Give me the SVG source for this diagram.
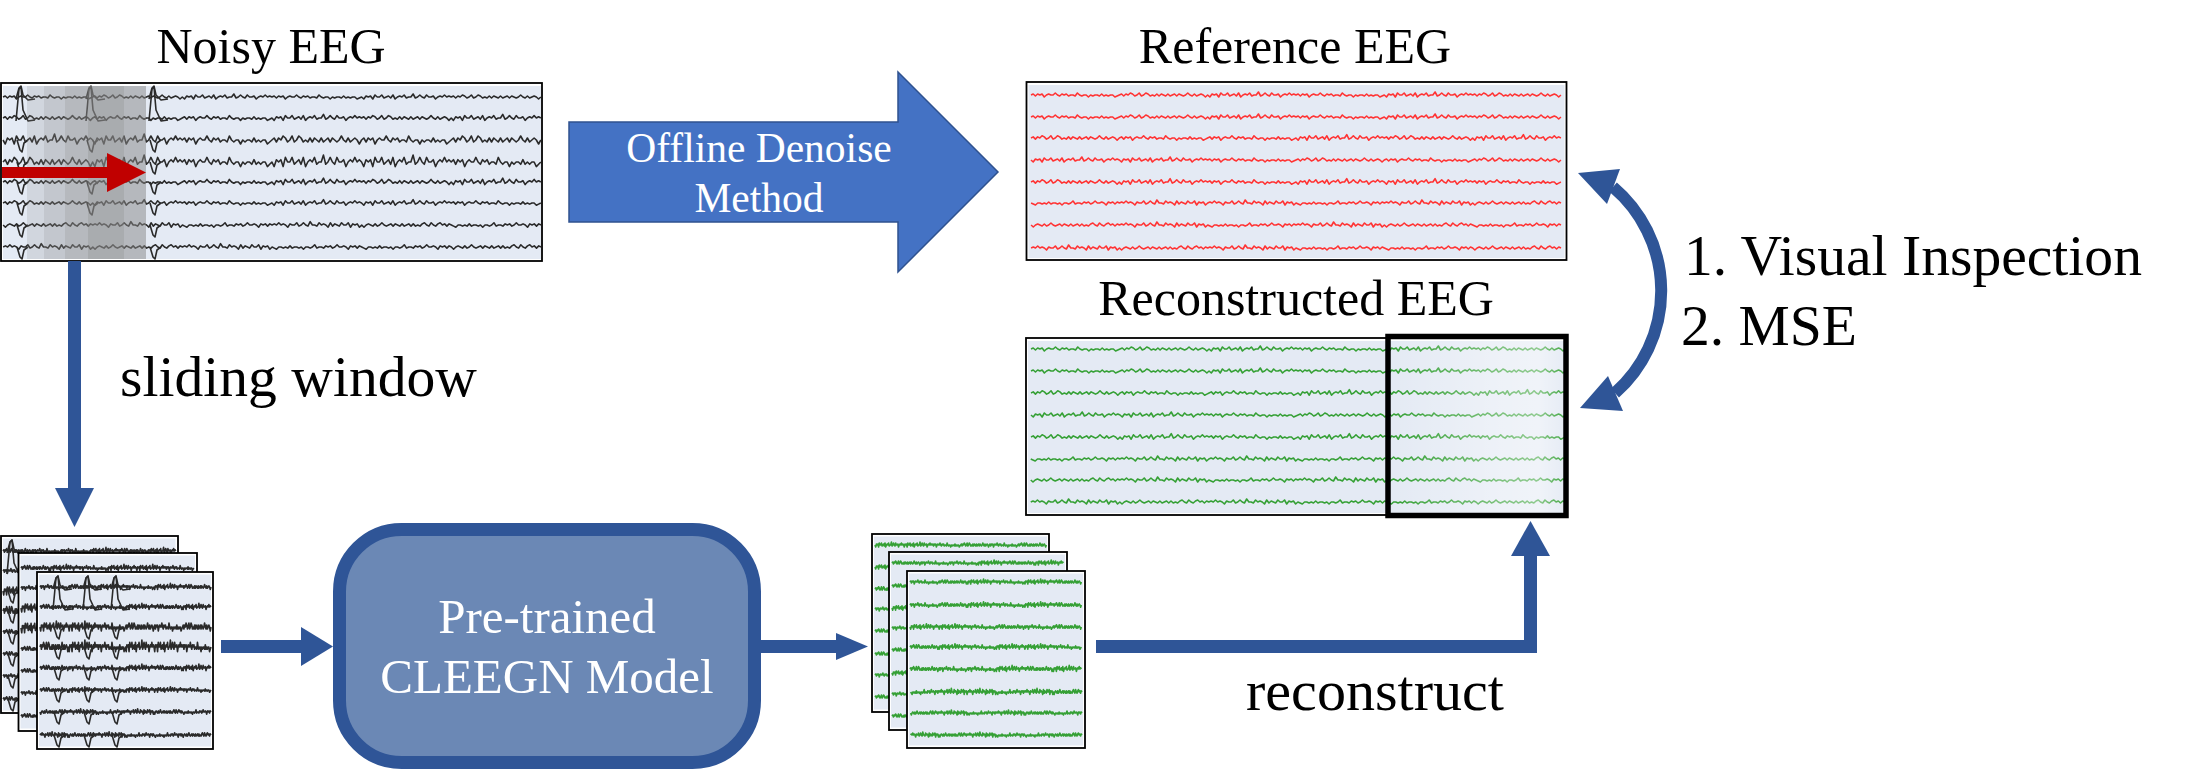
<svg xmlns="http://www.w3.org/2000/svg" width="2186" height="769" viewBox="0 0 2186 769">
<defs>
<style>
.frame{fill:#fff;stroke:#000;stroke-width:1.8}
.bg{fill:#E4EAF4}
.tk{fill:none;stroke:#2A2A2A;stroke-width:1.6;stroke-linejoin:round}
.tr{fill:none;stroke:#FF3333;stroke-width:1.6;stroke-linejoin:round}
.tg{fill:none;stroke:#35A035;stroke-width:1.6;stroke-linejoin:round}
text{font-family:'Liberation Serif','DejaVu Serif','Noto Serif','Times New Roman',serif}
.tx{fill:#000}
.wt{fill:#fff}
.ar{fill:#2F5597}
.ln{fill:none;stroke:#2F5597;stroke-width:13}
.band{fill:#888}
</style>
<path id="r1" vector-effect="non-scaling-stroke" d="M0,0 l3,-1 3,2 3,-2 3,1 3,-1 3,3 3,-2 3,-1 3,1 3,0 3,-2 3,2 3,1 3,-2 3,1 3,-1 3,2 3,-1 3,0 3,1 3,-3 3,2 3,1 3,-1 3,0 3,2 3,-2 3,1 3,-1 3,0 3,1 3,-2 3,2 3,-1 3,1 3,-1 3,0 3,2 3,-1 3,-1 3,-1 3,2 3,-2 3,1 3,-2 3,1 3,2 3,-1 3,-2 3,3 3,-1 3,-2 3,1 3,2 3,-1 3,1 3,-2 3,2 3,-2 3,1 3,1 3,-2 3,2 3,-1 3,-1 3,2 3,-2 3,1 3,1 3,-1 3,-2 3,2 3,1 3,-2 3,2 3,-1 3,-1 3,1 3,2 3,-2 3,2 3,-3 3,1 3,-1 3,3 3,-4 3,2 3,0 3,-2 3,3 3,-1 3,-1 3,2 3,-3 3,4 3,-2 3,-1 3,1 3,-2 3,3 3,-1 3,0 3,-3 3,4 3,-1 3,-2 3,2 3,1 3,-3 3,2 3,0 3,-1 3,3 3,-2 3,-1 3,1 3,-2 3,2 3,-1 3,1 3,-1 3,2 3,-2 3,1 3,-1 3,3 3,-2 3,-1 3,1 3,0 3,-2 3,2 3,1 3,-2 3,1 3,-1 3,2 3,-1 3,0 3,1 3,-3 3,2 3,1 3,-1 3,0 3,2 3,-2 3,1 3,-1 3,0 3,1 3,-2 3,2 3,-1 3,1 3,-1 3,0 3,2 3,-1 3,-1 3,2 3,-3 3,1 3,-1 3,3 3,-4 3,2 3,0 3,-2 3,3 3,-1 3,-1 3,2 3,-3 3,4 3,-2 3,-1 3,1 3,-2 3,3 3,-1 3,0 3,-3 3,4 3,-1 3,-2 3,2 3,1 3,-3 3,2 3,0 3,-1 3,3 3,-2 3,-1 3,1 3,-2 3,2 3,-1 3,1 3,-1 3,2 3,-2 3,1 3,-2 3,1 3,2 3,-1 3,-2 3,3 3,-1 3,-2 3,1 3,2 3,-1 3,1 3,-2 3,2 3,-2 3,1 3,1 3,-2 3,2 3,-1 3,-1 3,2 3,-2 3,1 3,1 3,-1 3,-2 3,2 3,1 3,-2 3,2 3,-1 3,-1 3,1 3,2 3,-2"/>
<path id="r2" vector-effect="non-scaling-stroke" d="M0,0 l3,-1 3,2 3,-2 3,1 3,-2 3,1 3,2 3,-1 3,-2 3,3 3,-1 3,-2 3,1 3,2 3,-1 3,1 3,-2 3,2 3,-2 3,1 3,1 3,-2 3,2 3,-1 3,-1 3,2 3,-2 3,1 3,1 3,-1 3,-2 3,2 3,1 3,-2 3,2 3,-1 3,-1 3,1 3,2 3,-2 3,-1 3,2 3,-2 3,1 3,-1 3,3 3,-2 3,-1 3,1 3,0 3,-2 3,2 3,1 3,-2 3,1 3,-1 3,2 3,-1 3,0 3,1 3,-3 3,2 3,1 3,-1 3,0 3,2 3,-2 3,1 3,-1 3,0 3,1 3,-2 3,2 3,-1 3,1 3,-1 3,0 3,2 3,-1 3,-1 3,-1 3,2 3,-2 3,1 3,-1 3,3 3,-2 3,-1 3,1 3,0 3,-2 3,2 3,1 3,-2 3,1 3,-1 3,2 3,-1 3,0 3,1 3,-3 3,2 3,1 3,-1 3,0 3,2 3,-2 3,1 3,-1 3,0 3,1 3,-2 3,2 3,-1 3,1 3,-1 3,0 3,2 3,-1 3,-1 3,2 3,-3 3,1 3,-1 3,3 3,-4 3,2 3,0 3,-2 3,3 3,-1 3,-1 3,2 3,-3 3,4 3,-2 3,-1 3,1 3,-2 3,3 3,-1 3,0 3,-3 3,4 3,-1 3,-2 3,2 3,1 3,-3 3,2 3,0 3,-1 3,3 3,-2 3,-1 3,1 3,-2 3,2 3,-1 3,1 3,-1 3,2 3,-2 3,1 3,-2 3,1 3,2 3,-1 3,-2 3,3 3,-1 3,-2 3,1 3,2 3,-1 3,1 3,-2 3,2 3,-2 3,1 3,1 3,-2 3,2 3,-1 3,-1 3,2 3,-2 3,1 3,1 3,-1 3,-2 3,2 3,1 3,-2 3,2 3,-1 3,-1 3,1 3,2 3,-2 3,2 3,-3 3,1 3,-1 3,3 3,-4 3,2 3,0 3,-2 3,3 3,-1 3,-1 3,2 3,-3 3,4 3,-2 3,-1 3,1 3,-2 3,3 3,-1 3,0 3,-3 3,4 3,-1 3,-2 3,2 3,1 3,-3 3,2 3,0 3,-1 3,3 3,-2 3,-1 3,1 3,-2 3,2 3,-1 3,1"/>
<path id="r3" vector-effect="non-scaling-stroke" d="M0,0 l3,2 3,-3 3,1 3,-1 3,3 3,-4 3,2 3,0 3,-2 3,3 3,-1 3,-1 3,2 3,-3 3,4 3,-2 3,-1 3,1 3,-2 3,3 3,-1 3,0 3,-3 3,4 3,-1 3,-2 3,2 3,1 3,-3 3,2 3,0 3,-1 3,3 3,-2 3,-1 3,1 3,-2 3,2 3,-1 3,1 3,2 3,-3 3,1 3,-1 3,3 3,-4 3,2 3,0 3,-2 3,3 3,-1 3,-1 3,2 3,-3 3,4 3,-2 3,-1 3,1 3,-2 3,3 3,-1 3,0 3,-3 3,4 3,-1 3,-2 3,2 3,1 3,-3 3,2 3,0 3,-1 3,3 3,-2 3,-1 3,1 3,-2 3,2 3,-1 3,1 3,-1 3,2 3,-2 3,1 3,-1 3,3 3,-2 3,-1 3,1 3,0 3,-2 3,2 3,1 3,-2 3,1 3,-1 3,2 3,-1 3,0 3,1 3,-3 3,2 3,1 3,-1 3,0 3,2 3,-2 3,1 3,-1 3,0 3,1 3,-2 3,2 3,-1 3,1 3,-1 3,0 3,2 3,-1 3,-1 3,-1 3,2 3,-2 3,1 3,-2 3,1 3,2 3,-1 3,-2 3,3 3,-1 3,-2 3,1 3,2 3,-1 3,1 3,-2 3,2 3,-2 3,1 3,1 3,-2 3,2 3,-1 3,-1 3,2 3,-2 3,1 3,1 3,-1 3,-2 3,2 3,1 3,-2 3,2 3,-1 3,-1 3,1 3,2 3,-2 3,-1 3,2 3,-2 3,1 3,-1 3,3 3,-2 3,-1 3,1 3,0 3,-2 3,2 3,1 3,-2 3,1 3,-1 3,2 3,-1 3,0 3,1 3,-3 3,2 3,1 3,-1 3,0 3,2 3,-2 3,1 3,-1 3,0 3,1 3,-2 3,2 3,-1 3,1 3,-1 3,0 3,2 3,-1 3,-1 3,-1 3,2 3,-2 3,1 3,-2 3,1 3,2 3,-1 3,-2 3,3 3,-1 3,-2 3,1 3,2 3,-1 3,1 3,-2 3,2 3,-2 3,1 3,1 3,-2 3,2 3,-1 3,-1 3,2 3,-2 3,1 3,1 3,-1 3,-2 3,2 3,1 3,-2 3,2 3,-1 3,-1 3,1 3,2 3,-2"/>
<path id="r4" vector-effect="non-scaling-stroke" d="M0,0 l3,-1 3,2 3,-2 3,1 3,-2 3,1 3,2 3,-1 3,-2 3,3 3,-1 3,-2 3,1 3,2 3,-1 3,1 3,-2 3,2 3,-2 3,1 3,1 3,-2 3,2 3,-1 3,-1 3,2 3,-2 3,1 3,1 3,-1 3,-2 3,2 3,1 3,-2 3,2 3,-1 3,-1 3,1 3,2 3,-2 3,2 3,-3 3,1 3,-1 3,3 3,-4 3,2 3,0 3,-2 3,3 3,-1 3,-1 3,2 3,-3 3,4 3,-2 3,-1 3,1 3,-2 3,3 3,-1 3,0 3,-3 3,4 3,-1 3,-2 3,2 3,1 3,-3 3,2 3,0 3,-1 3,3 3,-2 3,-1 3,1 3,-2 3,2 3,-1 3,1 3,-1 3,2 3,-2 3,1 3,-1 3,3 3,-2 3,-1 3,1 3,0 3,-2 3,2 3,1 3,-2 3,1 3,-1 3,2 3,-1 3,0 3,1 3,-3 3,2 3,1 3,-1 3,0 3,2 3,-2 3,1 3,-1 3,0 3,1 3,-2 3,2 3,-1 3,1 3,-1 3,0 3,2 3,-1 3,-1 3,2 3,-3 3,1 3,-1 3,3 3,-4 3,2 3,0 3,-2 3,3 3,-1 3,-1 3,2 3,-3 3,4 3,-2 3,-1 3,1 3,-2 3,3 3,-1 3,0 3,-3 3,4 3,-1 3,-2 3,2 3,1 3,-3 3,2 3,0 3,-1 3,3 3,-2 3,-1 3,1 3,-2 3,2 3,-1 3,1 3,2 3,-3 3,1 3,-1 3,3 3,-4 3,2 3,0 3,-2 3,3 3,-1 3,-1 3,2 3,-3 3,4 3,-2 3,-1 3,1 3,-2 3,3 3,-1 3,0 3,-3 3,4 3,-1 3,-2 3,2 3,1 3,-3 3,2 3,0 3,-1 3,3 3,-2 3,-1 3,1 3,-2 3,2 3,-1 3,1 3,-1 3,2 3,-2 3,1 3,-1 3,3 3,-2 3,-1 3,1 3,0 3,-2 3,2 3,1 3,-2 3,1 3,-1 3,2 3,-1 3,0 3,1 3,-3 3,2 3,1 3,-1 3,0 3,2 3,-2 3,1 3,-1 3,0 3,1 3,-2 3,2 3,-1 3,1 3,-1 3,0 3,2 3,-1 3,-1"/>
<path id="up1" d="M-5,2 L-2,-9 L0,-11 L2,-2 L7,3 L14,2"/>
<path id="up2" d="M-5,3 L-2,-29 L0,-31 L2,-8 L7,3 L14,2"/>
<path id="dn" d="M-4,0 L-1,10 L1,12 L3,3 L7,0"/>
<linearGradient id="gl" x1="0" y1="0" x2="1" y2="0">
<stop offset="0" stop-color="#fff" stop-opacity="0"/>
<stop offset="0.6" stop-color="#fff" stop-opacity="0.35"/>
<stop offset="0.85" stop-color="#fff" stop-opacity="0.45"/>
<stop offset="1" stop-color="#fff" stop-opacity="0.1"/>
</linearGradient>
</defs>

<rect width="2186" height="769" fill="#fff"/>

<g id="noisy-eeg">
<text class="tx" x="271" y="63" font-family="Liberation Serif, DejaVu Serif, serif" font-size="50" text-anchor="middle">Noisy EEG</text>
<rect class="frame" x="1" y="83" width="541" height="178"/>
<rect class="bg" x="3" y="86" width="538" height="173"/>
<g class="tk">
<use href="#r1" transform="translate(3,97) scale(0.747,1)"/>
<use href="#r2" transform="translate(3,118) scale(0.747,1.2)"/>
<use href="#r3" transform="translate(3,140) scale(0.747,2)"/>
<use href="#r4" transform="translate(3,162) scale(0.747,2.3)"/>
<use href="#r2" transform="translate(3,182) scale(0.747,1.3)"/>
<use href="#r4" transform="translate(3,203) scale(0.747,1.1)"/>
<use href="#r1" transform="translate(541,225) scale(-0.747,1.1)"/>
<use href="#r2" transform="translate(541,247) scale(-0.747,1.1)"/>
<use href="#up1" x="21" y="97"/><use href="#up2" x="21" y="118"/>
<use href="#dn" x="21" y="140"/><use href="#dn" x="21" y="162"/><use href="#dn" x="21" y="182"/><use href="#dn" x="21" y="203"/><use href="#dn" x="21" y="225"/><use href="#dn" x="21" y="247"/>
<use href="#up1" x="154" y="97"/><use href="#up2" x="154" y="118"/>
<use href="#dn" x="154" y="140"/><use href="#dn" x="154" y="162"/><use href="#dn" x="154" y="182"/><use href="#dn" x="154" y="203"/><use href="#dn" x="154" y="225"/><use href="#dn" x="154" y="247"/>
<use href="#up1" x="91" y="97"/><use href="#up2" x="91" y="118"/>
<use href="#dn" x="91" y="140"/><use href="#dn" x="91" y="182"/><use href="#dn" x="91" y="203"/>
</g>
<rect class="band" x="27" y="86" width="17" height="173" fill-opacity="0.2"/>
<rect class="band" x="44" y="86" width="21" height="173" fill-opacity="0.35"/>
<rect class="band" x="65" y="86" width="22.5" height="173" fill-opacity="0.5"/>
<rect class="band" x="87.5" y="86" width="36.5" height="173" fill-opacity="0.64"/>
<rect class="band" x="124" y="86" width="22" height="173" fill-opacity="0.51"/>
<rect x="2" y="167" width="106" height="11" fill="#C00000"/>
<polygon points="107,153 146,172.5 107,192" fill="#C00000"/>
</g>

<g id="offline-denoise">
<polygon points="569,122 898,122 898,72 998,172 898,272 898,222 569,222" fill="#4472C4" stroke="#2F528F" stroke-width="1.5"/>
<text class="wt" x="759" y="162" font-family="Liberation Serif, DejaVu Serif, serif" font-size="41.5" text-anchor="middle">Offline Denoise</text>
<text class="wt" x="759" y="212" font-family="Liberation Serif, DejaVu Serif, serif" font-size="41.5" text-anchor="middle">Method</text>
</g>

<g id="reference-eeg">
<text class="tx" x="1295" y="63" font-family="Liberation Serif, DejaVu Serif, serif" font-size="50" text-anchor="middle">Reference EEG</text>
<rect class="frame" x="1026.5" y="82" width="540" height="178"/>
<rect class="bg" x="1028.5" y="85" width="536" height="173"/>
<g class="tr">
<use href="#r1" transform="translate(1031,95) scale(0.736,1)"/>
<use href="#r1" transform="translate(1031,117) scale(0.736,1)"/>
<use href="#r2" transform="translate(1031,138) scale(0.736,1.1)"/>
<use href="#r3" transform="translate(1031,160) scale(0.736,1)"/>
<use href="#r4" transform="translate(1031,182) scale(0.736,1.1)"/>
<use href="#r4" transform="translate(1561,203) scale(-0.736,1)"/>
<use href="#r1" transform="translate(1561,225) scale(-0.736,1)"/>
<use href="#r2" transform="translate(1561,248) scale(-0.736,1)"/>
</g>
</g>

<g id="reconstructed-eeg">
<text class="tx" x="1296" y="315" font-family="Liberation Serif, DejaVu Serif, serif" font-size="50" text-anchor="middle">Reconstructed EEG</text>
<rect class="frame" x="1026" y="338" width="541" height="177"/>
<rect class="bg" x="1028" y="341" width="537" height="172"/>
<g class="tg">
<use href="#r1" transform="translate(1031,349) scale(0.742,1)"/>
<use href="#r1" transform="translate(1031,371) scale(0.742,1)"/>
<use href="#r2" transform="translate(1031,393) scale(0.742,1.1)"/>
<use href="#r3" transform="translate(1031,415) scale(0.742,1)"/>
<use href="#r4" transform="translate(1031,437) scale(0.742,1.1)"/>
<use href="#r4" transform="translate(1565,459) scale(-0.742,1)"/>
<use href="#r1" transform="translate(1565,480) scale(-0.742,1)"/>
<use href="#r2" transform="translate(1565,502) scale(-0.742,1)"/>
</g>
<rect x="1391" y="339" width="173" height="174" fill="url(#gl)"/>
<rect x="1388" y="336.5" width="178" height="179" fill="none" stroke="#000" stroke-width="5.5"/>
</g>

<g id="metrics">
<text class="tx" x="1684" y="275" font-family="Liberation Serif, DejaVu Serif, serif" font-size="57" textLength="458" lengthAdjust="spacingAndGlyphs">1. Visual Inspection</text>
<text class="tx" x="1681" y="345" font-family="Liberation Serif, DejaVu Serif, serif" font-size="57" textLength="176" lengthAdjust="spacingAndGlyphs">2. MSE</text>
</g>

<g id="noisy-windows">
<g>
<rect class="frame" x="1" y="536" width="177" height="177"/>
<rect class="bg" x="3" y="538.5" width="172.5" height="172"/>
<g class="tk">
<use href="#r2" transform="translate(3,551) scale(0.24,1.2)"/>
<use href="#r1" transform="translate(3,571) scale(0.24,1.2)"/>
<use href="#r3" transform="translate(3,591) scale(0.24,2)"/>
<use href="#r4" transform="translate(3,611) scale(0.24,2.2)"/>
<use href="#r2" transform="translate(3,632) scale(0.24,1.2)"/>
<use href="#r4" transform="translate(3,654) scale(0.24,1.1)"/>
<use href="#r1" transform="translate(3,676) scale(0.24,1.1)"/>
<use href="#r2" transform="translate(3,699) scale(0.24,1.1)"/>
<use href="#up1" x="12" y="551"/><use href="#up2" x="12" y="571"/>
<use href="#dn" x="12" y="591"/><use href="#dn" x="12" y="611"/><use href="#dn" x="12" y="632"/><use href="#dn" x="12" y="654"/><use href="#dn" x="12" y="676"/><use href="#dn" x="12" y="699"/>
</g>
</g>
<g>
<rect class="frame" x="18.5" y="553" width="178.5" height="178"/>
<rect class="bg" x="20.5" y="555.5" width="174.5" height="173"/>
<g class="tk">
<use href="#r4" transform="translate(21,568) scale(0.24,1.2)"/>
<use href="#r1" transform="translate(21,588) scale(0.24,1.2)"/>
<use href="#r3" transform="translate(21,608) scale(0.24,2)"/>
<use href="#r3" transform="translate(21,628) scale(0.24,2.4)"/>
<use href="#r2" transform="translate(21,649) scale(0.24,1.2)"/>
<use href="#r4" transform="translate(21,671) scale(0.24,1.1)"/>
<use href="#r1" transform="translate(21,693) scale(0.24,1.1)"/>
<use href="#r2" transform="translate(21,716) scale(0.24,1.1)"/>
</g>
</g>
<g>
<rect class="frame" x="37" y="572" width="176" height="177"/>
<rect class="bg" x="39" y="574.5" width="172" height="172"/>
<g class="tk">
<use href="#r1" transform="translate(40,587) scale(0.2375,1.2)"/>
<use href="#r2" transform="translate(40,607) scale(0.2375,1.2)"/>
<use href="#r3" transform="translate(40,627) scale(0.2375,2)"/>
<use href="#r4" transform="translate(40,647) scale(0.2375,2.3)"/>
<use href="#r2" transform="translate(40,668) scale(0.2375,1.3)"/>
<use href="#r4" transform="translate(40,690) scale(0.2375,1.1)"/>
<use href="#r1" transform="translate(211,712) scale(-0.2375,1.1)"/>
<use href="#r2" transform="translate(211,735) scale(-0.2375,1.1)"/>
<use href="#up1" x="58" y="587"/><use href="#up2" x="58" y="607"/>
<use href="#dn" x="58" y="627"/><use href="#dn" x="58" y="647"/><use href="#dn" x="58" y="668"/><use href="#dn" x="58" y="690"/><use href="#dn" x="58" y="712"/><use href="#dn" x="58" y="735"/>
<use href="#up1" x="88" y="587"/><use href="#up2" x="88" y="607"/>
<use href="#dn" x="88" y="627"/><use href="#dn" x="88" y="647"/><use href="#dn" x="88" y="668"/><use href="#dn" x="88" y="690"/><use href="#dn" x="88" y="712"/><use href="#dn" x="88" y="735"/>
<use href="#up1" x="116" y="587"/><use href="#up2" x="116" y="607"/>
<use href="#dn" x="116" y="627"/><use href="#dn" x="116" y="647"/><use href="#dn" x="116" y="668"/><use href="#dn" x="116" y="690"/><use href="#dn" x="116" y="712"/><use href="#dn" x="116" y="735"/>
</g>
</g>
</g>

<g id="cleegn-model">
<rect x="339.5" y="529.5" width="415" height="233" rx="62" fill="#6B88B5" stroke="#2F5597" stroke-width="13"/>
<text class="wt" x="547" y="633" font-family="Liberation Serif, DejaVu Serif, serif" font-size="49" text-anchor="middle">Pre-trained</text>
<text class="wt" x="547" y="693" font-family="Liberation Serif, DejaVu Serif, serif" font-size="49" text-anchor="middle">CLEEGN Model</text>
</g>

<g id="reconstructed-windows">
<g>
<rect class="frame" x="872" y="534" width="177" height="178"/>
<rect class="bg" x="874" y="536.5" width="173" height="173"/>
<g class="tg">
<use href="#r3" transform="translate(875,545) scale(0.238,1)"/>
<use href="#r3" transform="translate(875,567) scale(0.238,1)"/>
<use href="#r2" transform="translate(875,589) scale(0.238,1.1)"/>
<use href="#r1" transform="translate(875,609) scale(0.238,1)"/>
<use href="#r4" transform="translate(875,631) scale(0.238,1)"/>
<use href="#r2" transform="translate(875,654) scale(0.238,1)"/>
<use href="#r1" transform="translate(875,675) scale(0.238,1)"/>
<use href="#r4" transform="translate(875,697) scale(0.238,1)"/>
</g>
</g>
<g>
<rect class="frame" x="889" y="552" width="178" height="178"/>
<rect class="bg" x="891" y="554.5" width="174" height="173"/>
<g class="tg">
<use href="#r2" transform="translate(892,563) scale(0.238,1)"/>
<use href="#r4" transform="translate(892,586) scale(0.238,1)"/>
<use href="#r3" transform="translate(892,608) scale(0.238,1.1)"/>
<use href="#r1" transform="translate(892,628) scale(0.238,1)"/>
<use href="#r2" transform="translate(892,650) scale(0.238,1)"/>
<use href="#r3" transform="translate(892,673) scale(0.238,1)"/>
<use href="#r1" transform="translate(892,694) scale(0.238,1)"/>
<use href="#r4" transform="translate(892,716) scale(0.238,1)"/>
</g>
</g>
<g>
<rect class="frame" x="907" y="571" width="178" height="177"/>
<rect class="bg" x="909" y="573.5" width="174" height="172"/>
<g class="tg">
<use href="#r1" transform="translate(910,582) scale(0.238,1)"/>
<use href="#r1" transform="translate(910,605) scale(0.238,1.1)"/>
<use href="#r3" transform="translate(910,627) scale(0.238,1.1)"/>
<use href="#r4" transform="translate(910,647) scale(0.238,1.1)"/>
<use href="#r2" transform="translate(910,669) scale(0.238,1.2)"/>
<use href="#r4" transform="translate(1082,692) scale(-0.238,1.2)"/>
<use href="#r1" transform="translate(1082,713) scale(-0.238,1)"/>
<use href="#r2" transform="translate(1082,735) scale(-0.238,1)"/>
</g>
</g>
</g>

<g id="connectors">
<line class="ln" x1="74.5" y1="261" x2="74.5" y2="489"/>
<polygon class="ar" points="55,488 94,488 74.5,527"/>
<text class="tx" x="120" y="396" font-family="Liberation Serif, DejaVu Serif, serif" font-size="58" textLength="357" lengthAdjust="spacingAndGlyphs">sliding window</text>
<line class="ln" x1="221" y1="646.5" x2="302" y2="646.5"/>
<polygon class="ar" points="301,627 333,646.5 301,666"/>
<line class="ln" x1="760" y1="646.5" x2="837" y2="646.5"/>
<polygon class="ar" points="836,633 868,646.5 836,660"/>
<polyline class="ln" points="1096,646.5 1530.5,646.5 1530.5,554" stroke-width="12"/>
<polygon class="ar" points="1511,556 1550,556 1530.5,521"/>
<text class="tx" x="1246" y="710" font-family="Liberation Serif, DejaVu Serif, serif" font-size="58" textLength="258" lengthAdjust="spacingAndGlyphs">reconstruct</text>
<path d="M1613,187 A136,136 0 0 1 1615,393" fill="none" stroke="#2F5597" stroke-width="12"/>
<polygon class="ar" points="1578,173 1620,169 1607,204"/>
<polygon class="ar" points="1580,408 1608,376 1623,411"/>
</g>
</svg>
